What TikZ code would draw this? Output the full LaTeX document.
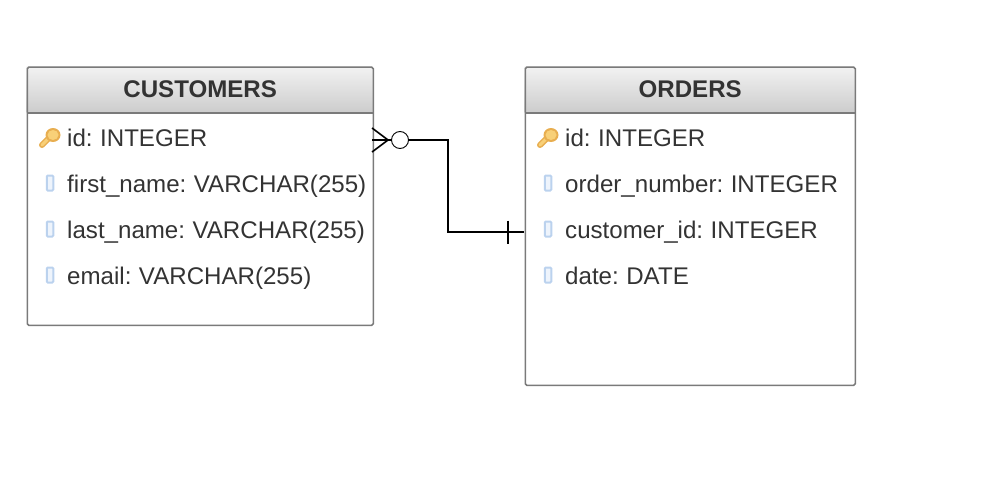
\documentclass[tikz,border=0pt]{standalone}
\usepackage{fontspec}
\setmainfont{Liberation Sans}
\usetikzlibrary{calc}
\definecolor{txt}{HTML}{333333}
\definecolor{bord}{HTML}{7A7A7A}
\definecolor{keyc}{HTML}{F8D078}
\definecolor{keyd}{HTML}{E8AE50}
\definecolor{colb}{HTML}{BBD2EE}
\definecolor{colf}{HTML}{EEF4FC}
\newcommand{\tightspace}{\spaceskip 5.3pt\relax}
\tikzset{x=1pt,y=-1pt,
 tablebox/.style={draw=bord,line width=1.5pt,rounded corners=1.5pt},
 headertext/.style={text=txt,font=\fontsize{24.1}{26}\selectfont\bfseries,anchor=center,inner sep=0pt},
 rowtext/.style={text=txt,font=\fontsize{24.1}{26}\selectfont,anchor=base west,inner sep=0pt},
 link/.style={line width=1.6pt,black},
 colicon/.style={draw=colb,fill=colf,line width=2pt,rounded corners=1pt,minimum width=6.5pt,minimum height=15pt,inner sep=0pt},
}
\newcommand{\keyicon}[2]{%
 \begin{scope}[shift={(#1,#2)}]
  \draw[keyd,line width=6pt,line cap=round] (-4,7) -- (3,0);
  \draw[keyc,line width=3pt,line cap=round] (-4,7) -- (3,0);
  \fill[keyd] (7,-3) ellipse (7.5pt and 7pt);
  \fill[keyc] (7,-3) ellipse (5.5pt and 5pt);
 \end{scope}}
\newcommand{\tabl}[6]{%
 \shade[top color=white!95!black,bottom color=white!80!black] (#2,#3) rectangle (#4,113);
 \draw[bord,line width=1.5pt] (#2,113) -- (#4,113);
 \node[tablebox,minimum width=#4pt-#2pt,minimum height=#5pt-#3pt,anchor=north west,inner sep=0pt] (#1) at (#2,#3) {};
 \node[headertext] (#1title) at ({(#2+#4)/2+0.7},89) {#6};
}
\begin{document}
\begin{tikzpicture}
\useasboundingbox (0,0) rectangle (984,484);
\tabl{cust}{26.5}{66.5}{372.5}{324.5}{CUSTOMERS}
\tabl{ord}{524.5}{66.5}{854.5}{384.5}{ORDERS}
\keyicon{46}{138}
\keyicon{544}{138}
\foreach \y/\n in {183/c1,229/c2,275/c3}{\node[colicon] (\n) at (50,\y) {};}
\foreach \y/\n in {183/o1,229/o2,275/o3}{\node[colicon] (\n) at (548,\y) {};}
\node[rowtext] (r1) at (67,146) {\tightspace id: INTEGER};
\node[rowtext] (r2) at (67,192) {\tightspace first\_name: VARCHAR(255)};
\node[rowtext] (r3) at (67,238) {\tightspace last\_name: VARCHAR(255)};
\node[rowtext] (r4) at (67,284) {\tightspace email: VARCHAR(255)};
\node[rowtext] (s1) at (565,146) {\tightspace id: INTEGER};
\node[rowtext] (s2) at (565,192) {\tightspace order\_number: INTEGER};
\node[rowtext] (s3) at (565,238) {\tightspace customer\_id: INTEGER};
\node[rowtext] (s4) at (565,284) {\tightspace date: DATE};
% connector
\coordinate (a) at (372,140);
\coordinate (t) at (388,140);
\coordinate (up) at (372,128);
\coordinate (dn) at (372,152);
\coordinate (b) at (524,232);
\node[draw=black,line width=.9pt,fill=white,circle,minimum size=17pt,inner sep=0pt] (circ) at (400,140) {};
\draw[link] (a) -- (circ.west);
\draw[link] (up) -- (t) -- (dn);
\draw[link] (circ.east) -- (448,140) -- (448,232) -- (b);
\draw[line width=1.2pt] (508,220.5) -- (508,243.5);
\end{tikzpicture}
\end{document}
